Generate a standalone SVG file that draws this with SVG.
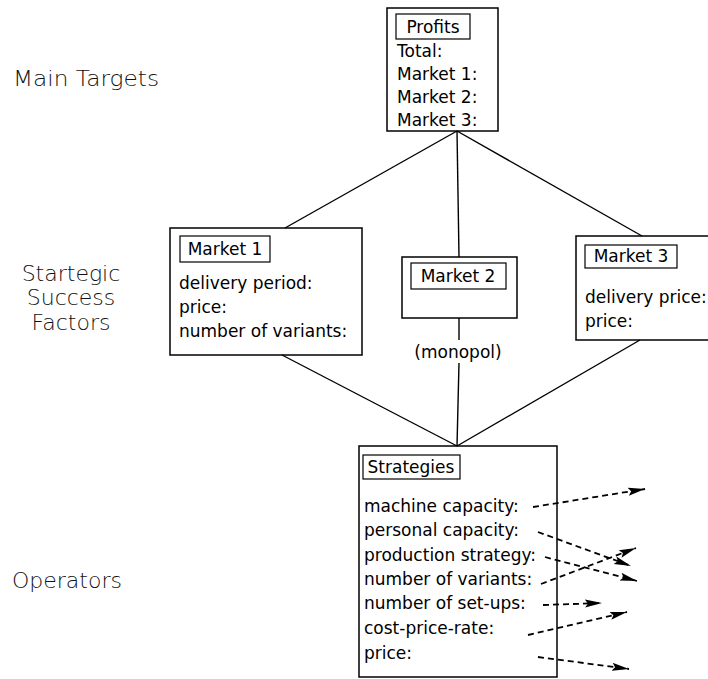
<svg xmlns="http://www.w3.org/2000/svg" width="708" height="679" viewBox="0 0 708 679">
<defs>
<style>
.box{fill:#fff;stroke:#000;stroke-width:1.5}
.lbl{fill:none;stroke:#000;stroke-width:1.2}
.t{font-family:"DejaVu Sans","Liberation Sans",sans-serif;font-size:17px;fill:#000}
.c{text-anchor:middle}
.side{font-family:"DejaVu Sans","Liberation Sans",sans-serif;font-size:22px;fill:#111;font-weight:300}
.ln{stroke:#000;stroke-width:1.4;fill:none}
.da{stroke:#000;stroke-width:1.8;fill:none;stroke-dasharray:6 4;marker-end:url(#ah)}
</style>
<marker id="ah" markerUnits="userSpaceOnUse" markerWidth="19" markerHeight="10" refX="17" refY="5" orient="auto">
<path d="M0,1 L17,5 L0,9 L3,5 Z" fill="#000"/>
</marker>
</defs>
<rect width="708" height="679" fill="#fff"/>
<g id="side-labels">
<text class="side" x="13" y="86" textLength="146" lengthAdjust="spacingAndGlyphs">Main Targets</text>
<text class="side c" x="71" y="281">Startegic</text>
<text class="side c" x="71" y="305">Success</text>
<text class="side c" x="71" y="330">Factors</text>
<text class="side" x="12" y="588">Operators</text>
</g>
<g id="profits">
<rect class="box" x="387" y="8" width="111" height="123"/>
<rect class="lbl" x="396" y="14" width="74" height="25"/>
<text class="t c" x="433" y="33">Profits</text>
<text class="t" x="397" y="57">Total:</text>
<text class="t" x="397" y="80">Market 1:</text>
<text class="t" x="397" y="103">Market 2:</text>
<text class="t" x="397" y="126">Market 3:</text>
</g>
<g id="market1">
<rect class="box" x="170" y="228" width="192" height="127"/>
<rect class="lbl" x="180" y="236" width="90" height="26"/>
<text class="t c" x="225" y="255">Market 1</text>
<text class="t" x="179" y="289">delivery period:</text>
<text class="t" x="179" y="313">price:</text>
<text class="t" x="179" y="337">number of variants:</text>
</g>
<g id="market2">
<rect class="box" x="402" y="257" width="115" height="61"/>
<rect class="lbl" x="411" y="263" width="95" height="26"/>
<text class="t c" x="458" y="282">Market 2</text>
<text class="t c" x="458" y="358">(monopol)</text>
</g>
<g id="market3">
<rect class="box" x="576" y="236" width="140" height="104"/>
<rect class="lbl" x="585" y="245" width="92" height="23"/>
<text class="t c" x="631" y="262">Market 3</text>
<text class="t" x="585" y="303">delivery price:</text>
<text class="t" x="585" y="327">price:</text>
</g>
<g id="strategies">
<rect class="box" x="359" y="446" width="198" height="231"/>
<rect class="lbl" x="363" y="455" width="97" height="24"/>
<text class="t c" x="411" y="473">Strategies</text>
<text class="t" x="364" y="512">machine capacity:</text>
<text class="t" x="364" y="536">personal capacity:</text>
<text class="t" x="364" y="561">production strategy:</text>
<text class="t" x="364" y="585">number of variants:</text>
<text class="t" x="364" y="609">number of set-ups:</text>
<text class="t" x="364" y="634">cost-price-rate:</text>
<text class="t" x="364" y="659">price:</text>
</g>
<g id="connectors">
<line class="ln" x1="457" y1="131" x2="285" y2="228"/>
<line class="ln" x1="457" y1="131" x2="459" y2="257"/>
<line class="ln" x1="457" y1="131" x2="642" y2="236"/>
<line class="ln" x1="282" y1="355" x2="457" y2="446"/>
<line class="ln" x1="459" y1="318" x2="459" y2="340"/>
<line class="ln" x1="459" y1="363" x2="457" y2="446"/>
<line class="ln" x1="640" y1="340" x2="457" y2="446"/>
<line class="da" x1="533" y1="507" x2="645" y2="489"/>
<line class="da" x1="538" y1="532" x2="631" y2="566"/>
<line class="da" x1="545" y1="557" x2="637" y2="581"/>
<line class="da" x1="541" y1="584" x2="636" y2="548"/>
<line class="da" x1="543" y1="605" x2="602" y2="603"/>
<line class="da" x1="528" y1="635" x2="627" y2="612"/>
<line class="da" x1="538" y1="657" x2="629" y2="669"/>
</g>
</svg>
